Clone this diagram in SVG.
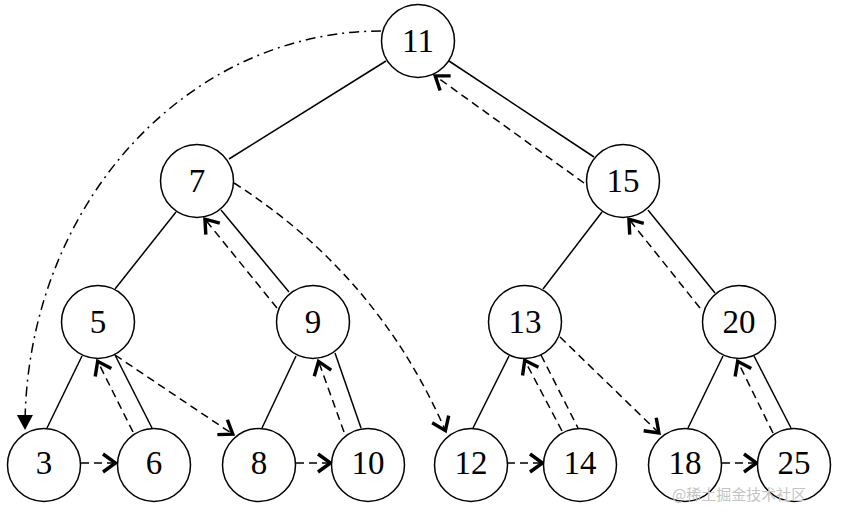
<svg xmlns="http://www.w3.org/2000/svg" width="844" height="512" viewBox="0 0 844 512">
<style>
.node circle{fill:#fff;stroke:#000;stroke-width:1.5}
.node text{font-family:"Liberation Serif","Times New Roman",serif;font-size:33px;text-anchor:middle;fill:#000}
.edge{stroke:#000;stroke-width:1.5;fill:none}
.thread{stroke:#000;stroke-width:1.5;fill:none;stroke-dasharray:8 5;marker-end:url(#open)}
.dashedge{stroke:#000;stroke-width:1.5;fill:none;stroke-dasharray:8 5}
.dashdot{stroke:#000;stroke-width:1.5;fill:none;stroke-dasharray:10 5 2 5;marker-end:url(#solid)}
.wm{font-family:"Noto Sans CJK SC","Noto Sans",sans-serif;font-size:15px;fill:#c4c4c4}
</style>
<defs>
<marker id="open" markerUnits="userSpaceOnUse" markerWidth="30" markerHeight="30" refX="0" refY="0" orient="auto" overflow="visible">
<path d="M-14,-9 L-1.5,0 L-14,9" fill="none" stroke="#000" stroke-width="3.4"/>
</marker>
<marker id="solid" markerUnits="userSpaceOnUse" markerWidth="30" markerHeight="30" refX="0" refY="0" orient="auto" overflow="visible">
<path d="M-15,-8 L0,0 L-15,8 Z" fill="#000"/>
</marker>
</defs>
<rect width="844" height="512" fill="#fff"/>
<g id="connectors">
<line class="edge" x1="386" y1="61" x2="229" y2="159"/>
<line class="edge" x1="449" y1="61" x2="594" y2="157"/>
<line class="edge" x1="176" y1="212" x2="115" y2="289"/>
<line class="edge" x1="221" y1="210" x2="289" y2="292"/>
<line class="edge" x1="602" y1="212" x2="543" y2="289"/>
<line class="edge" x1="648" y1="210" x2="715" y2="293"/>
<line class="edge" x1="82" y1="356" x2="47" y2="428"/>
<line class="edge" x1="115" y1="355" x2="152" y2="428"/>
<line class="edge" x1="296" y1="356" x2="262" y2="428"/>
<line class="edge" x1="335" y1="353" x2="361" y2="428"/>
<line class="edge" x1="509" y1="356" x2="473" y2="428"/>
<line class="dashedge" x1="541" y1="355" x2="578" y2="428"/>
<line class="edge" x1="723" y1="356" x2="688" y2="428"/>
<line class="edge" x1="754" y1="356" x2="791" y2="428"/>
<line class="thread" x1="584" y1="183" x2="434" y2="75"/>
<line class="thread" x1="277" y1="308" x2="204" y2="218"/>
<line class="thread" x1="700" y1="308" x2="628" y2="218"/>
<line class="thread" x1="133" y1="432" x2="97" y2="360"/>
<line class="thread" x1="344" y1="432" x2="318" y2="360"/>
<line class="thread" x1="562" y1="431" x2="524" y2="359"/>
<line class="thread" x1="773" y1="433" x2="737" y2="360"/>
<line class="thread" x1="81" y1="463" x2="117" y2="463"/>
<line class="thread" x1="296" y1="463" x2="332" y2="463"/>
<line class="thread" x1="507" y1="463" x2="544" y2="463"/>
<line class="thread" x1="722" y1="463" x2="758" y2="463"/>
<line class="thread" x1="115" y1="355" x2="234" y2="435"/>
<line class="thread" x1="560" y1="337" x2="660" y2="434"/>
<path class="thread" d="M234,183 Q378,275 446,432"/>
<path class="dashdot" d="M381,31 A356,397 0 0 0 25,430"/>
</g>
<g id="n11" class="node"><circle cx="418" cy="41" r="36.5"/><text x="418" y="52">11</text></g>
<g id="n7" class="node"><circle cx="197" cy="181" r="36.5"/><text x="197" y="192">7</text></g>
<g id="n15" class="node"><circle cx="623" cy="181" r="36.5"/><text x="623" y="192">15</text></g>
<g id="n5" class="node"><circle cx="98" cy="322" r="36.5"/><text x="98" y="333">5</text></g>
<g id="n9" class="node"><circle cx="313" cy="322" r="36.5"/><text x="313" y="333">9</text></g>
<g id="n13" class="node"><circle cx="525" cy="322" r="36.5"/><text x="525" y="333">13</text></g>
<g id="n20" class="node"><circle cx="739" cy="322" r="36.5"/><text x="739" y="333">20</text></g>
<g id="n3" class="node"><circle cx="44" cy="465" r="36.5"/><text x="44" y="474">3</text></g>
<g id="n6" class="node"><circle cx="154" cy="465" r="36.5"/><text x="154" y="474">6</text></g>
<g id="n8" class="node"><circle cx="259" cy="465" r="36.5"/><text x="259" y="474">8</text></g>
<g id="n10" class="node"><circle cx="368" cy="465" r="36.5"/><text x="368" y="474">10</text></g>
<g id="n12" class="node"><circle cx="471" cy="465" r="36.5"/><text x="471" y="474">12</text></g>
<g id="n14" class="node"><circle cx="580" cy="465" r="36.5"/><text x="580" y="474">14</text></g>
<g id="n18" class="node"><circle cx="685" cy="465" r="36.5"/><text x="685" y="474">18</text></g>
<g id="n25" class="node"><circle cx="794" cy="465" r="36.5"/><text x="794" y="474">25</text></g>
<text class="wm" x="672" y="500">@稀土掘金技术社区</text>
</svg>
